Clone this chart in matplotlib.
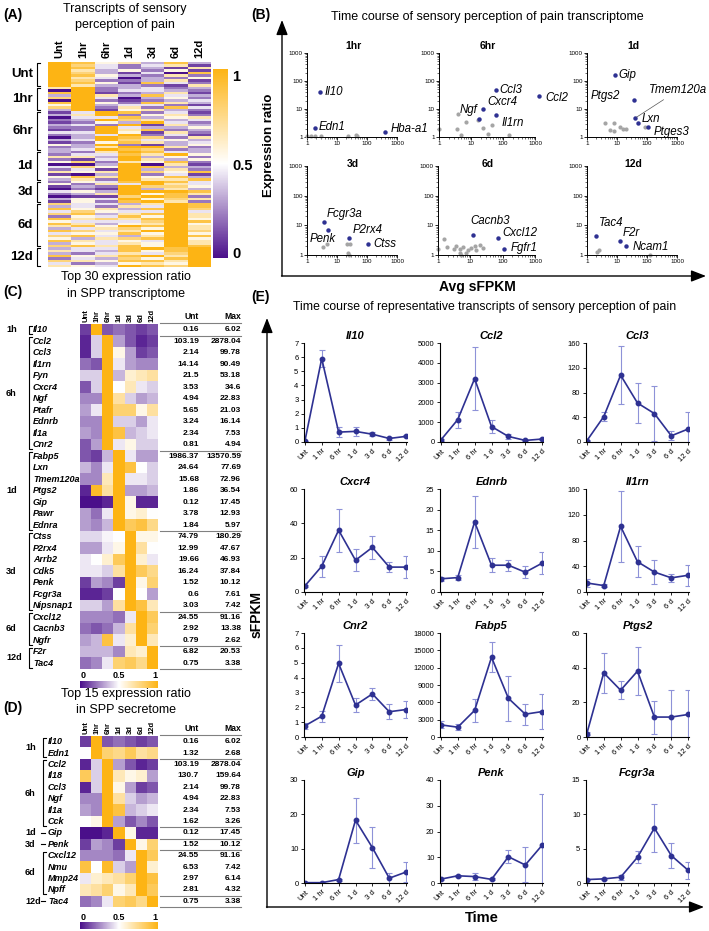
import numpy as np
import matplotlib
matplotlib.use("Agg")
import matplotlib.pyplot as plt
from matplotlib.colors import LinearSegmentedColormap

plt.rcParams['font.family'] = ['Liberation Sans', 'DejaVu Sans']

W, H = 709, 931
fig = plt.figure(figsize=(W / 100, H / 100), dpi=100)
cmap = LinearSegmentedColormap.from_list("pw", ["#4A0F8A", "#FFFFFF", "#FDB414"])
line_col = "#2E3192"
err_col = "#8E92D8"


def pax(x0, y0, x1, y1):
    # axes placed in pixel coords, origin top-left
    return fig.add_axes([x0 / W, 1 - y1 / H, (x1 - x0) / W, (y1 - y0) / H])


ov = fig.add_axes([0, 0, 1, 1], zorder=10)
ov.set_xlim(0, W)
ov.set_ylim(H, 0)
ov.axis('off')
ov.patch.set_alpha(0)

# ---------------- data ----------------
time_cols = ["Unt", "1hr", "6hr", "1d", "3d", "6d", "12d"]

# panel A, one digit per cell (0 = 0, 9 = 1)
a_groups = ["Unt", "1hr", "6hr", "1d", "3d", "6d", "12d"]
a_rows = [
    ["9856383", "9742461", "9842316", "9635251", "9731408",
     "9853262", "9640325", "9722361", "9851842", "9633216"],
    ["6923423", "0924432", "8912361", "3963843", "7940352",
     "0921234", "8952863", "5934421", "7926284", "3915632"],
    ["1498241", "3692562", "0448356", "2397634", "1253942", "3429163",
     "2294335", "1296823", "4495162", "2349241", "0398726", "3497453",
     "1258634", "5392135", "2369962", "3498723"],
    ["3269843", "2448695", "6639352", "2149635", "5726582", "0039061",
     "4759833", "2419362", "6569758", "1039241", "5869583", "3629668"],
    ["2548984", "5264964", "1329775", "0219363", "4539998",
     "2369586", "0117982", "3549576", "1528962"],
    ["7443698", "3426498", "8563897", "4754494", "7836896", "2548596",
     "8676895", "5444798", "8635695", "6859896", "3467596", "8746997",
     "4558595", "7843698", "5367895", "8645496", "3546596", "7868598"],
    ["3448989", "6438589", "3246479", "8568969", "2437589",
     "7658869", "4235659", "6549879"],
]

# panel C
c_genes = ["Il10", "Ccl2", "Ccl3", "Il1rn", "Fyn", "Cxcr4", "Ngf", "Ptafr", "Ednrb", "Il1a",
           "Cnr2", "Fabp5", "Lxn", "Tmem120a", "Ptgs2", "Gip", "Pawr", "Ednra", "Ctss",
           "P2rx4", "Arrb2", "Cdk5", "Penk", "Fcgr3a", "Nipsnap1", "Cxcl12", "Cacnb3",
           "Ngfr", "F2r", "Tac4"]
c_groups = [("1h", 1), ("6h", 10), ("1d", 7), ("3d", 7), ("6d", 3), ("12d", 2)]
c_unt = ["0.16", "103.19", "2.14", "14.14", "21.5", "3.53", "4.94", "5.65", "3.24", "2.34",
         "0.81", "1986.37", "24.64", "15.68", "1.86", "0.12", "3.78", "1.84", "74.79",
         "12.99", "19.66", "16.24", "1.52", "0.6", "3.03", "24.55", "2.92", "0.79",
         "6.82", "0.75"]
c_max = ["6.02", "2878.04", "99.78", "90.49", "53.18", "34.6", "22.83", "21.03", "16.14",
         "7.53", "4.94", "13570.59", "77.69", "72.96", "36.54", "17.45", "12.93", "5.97",
         "180.29", "47.67", "46.93", "37.84", "10.12", "7.61", "7.42", "91.16", "13.38",
         "2.62", "20.53", "3.38"]
c_vals = [
    [0.10, 1.00, 0.15, 0.20, 0.15, 0.10, 0.15],
    [0.05, 0.40, 1.00, 0.30, 0.15, 0.05, 0.10],
    [0.05, 0.40, 1.00, 0.55, 0.30, 0.10, 0.15],
    [0.20, 0.15, 1.00, 0.45, 0.30, 0.25, 0.25],
    [0.40, 0.40, 1.00, 0.35, 0.60, 0.65, 0.70],
    [0.15, 0.40, 1.00, 0.50, 0.65, 0.45, 0.40],
    [0.25, 0.25, 1.00, 0.70, 0.40, 0.30, 0.35],
    [0.30, 0.45, 1.00, 0.80, 0.80, 0.55, 0.70],
    [0.25, 0.25, 1.00, 0.40, 0.40, 0.30, 0.45],
    [0.30, 0.25, 1.00, 0.90, 0.35, 0.40, 0.45],
    [0.15, 0.30, 1.00, 0.45, 0.55, 0.40, 0.40],
    [0.15, 0.10, 0.35, 1.00, 0.45, 0.30, 0.30],
    [0.35, 0.25, 0.45, 1.00, 0.90, 0.50, 0.40],
    [0.25, 0.25, 0.65, 1.00, 0.45, 0.45, 0.40],
    [0.05, 0.95, 0.70, 1.00, 0.30, 0.30, 0.35],
    [0.00, 0.00, 0.05, 1.00, 0.55, 0.05, 0.05],
    [0.30, 0.20, 0.45, 1.00, 0.55, 0.60, 0.50],
    [0.30, 0.25, 0.35, 1.00, 0.85, 0.90, 0.75],
    [0.42, 0.42, 0.48, 0.50, 1.00, 0.55, 0.55],
    [0.30, 0.30, 0.45, 0.55, 1.00, 0.70, 0.50],
    [0.45, 0.50, 0.60, 0.85, 1.00, 0.60, 0.45],
    [0.45, 0.45, 0.40, 0.70, 1.00, 0.85, 0.75],
    [0.10, 0.30, 0.25, 0.10, 1.00, 0.55, 0.80],
    [0.05, 0.05, 0.10, 0.50, 1.00, 0.50, 0.30],
    [0.40, 0.40, 0.30, 0.70, 1.00, 0.90, 0.65],
    [0.25, 0.25, 0.25, 0.20, 0.45, 1.00, 0.85],
    [0.20, 0.15, 0.20, 0.35, 0.70, 1.00, 0.80],
    [0.30, 0.35, 0.90, 0.45, 0.60, 1.00, 0.65],
    [0.35, 0.35, 0.35, 0.25, 0.65, 0.60, 1.00],
    [0.20, 0.25, 0.45, 0.80, 0.85, 0.75, 1.00],
]

# panel D
d_genes = ["Il10", "Edn1", "Ccl2", "Il18", "Ccl3", "Ngf", "Il1a", "Cck", "Gip", "Penk",
           "Cxcl12", "Nmu", "Mmp24", "Npff", "Tac4"]
d_groups = [("1h", 2), ("6h", 6), ("1d", 1), ("3d", 1), ("6d", 4), ("12d", 1)]
d_unt = ["0.16", "1.32", "103.19", "130.7", "2.14", "4.94", "2.34", "1.62", "0.12", "1.52",
         "24.55", "6.53", "2.97", "2.81", "0.75"]
d_max = ["6.02", "2.68", "2878.04", "159.64", "99.78", "22.83", "7.53", "3.26", "17.45",
         "10.12", "91.16", "7.42", "6.14", "4.32", "3.38"]
d_vals = [
    [0.10, 1.00, 0.15, 0.20, 0.15, 0.10, 0.15],
    [0.50, 1.00, 0.80, 0.75, 0.85, 0.70, 0.75],
    [0.05, 0.40, 1.00, 0.30, 0.15, 0.05, 0.10],
    [0.85, 0.40, 1.00, 0.65, 0.55, 0.60, 0.30],
    [0.05, 0.40, 1.00, 0.55, 0.30, 0.10, 0.15],
    [0.25, 0.25, 1.00, 0.70, 0.40, 0.30, 0.35],
    [0.30, 0.25, 1.00, 0.90, 0.35, 0.40, 0.45],
    [0.50, 0.55, 1.00, 0.30, 0.15, 0.25, 0.15],
    [0.00, 0.00, 0.05, 1.00, 0.55, 0.05, 0.05],
    [0.10, 0.30, 0.25, 0.10, 1.00, 0.55, 0.80],
    [0.25, 0.25, 0.25, 0.20, 0.45, 1.00, 0.85],
    [0.90, 0.50, 0.95, 0.40, 0.30, 1.00, 0.60],
    [0.45, 0.60, 0.65, 0.70, 0.80, 1.00, 0.90],
    [0.65, 0.70, 0.80, 0.55, 0.65, 1.00, 0.85],
    [0.20, 0.25, 0.45, 0.80, 0.85, 0.75, 1.00],
]

# panel B
b_panels = ["1hr", "6hr", "1d", "3d", "6d", "12d"]
b_names = {"1hr": ["Il10", "Edn1", "Hba-a1"],
           "6hr": ["Ccl3", "Ccl2", "Cxcr4", "Ngf", "Il1rn"],
           "1d": ["Gip", "Ptgs2", "Tmem120a", "Lxn", "Ptges3"],
           "3d": ["Fcgr3a", "Penk", "P2rx4", "Ctss"],
           "6d": ["Cacnb3", "Cxcl12", "Fgfr1"],
           "12d": ["Tac4", "F2r", "Ncam1"]}
b_x = {"1hr": [2.7, 1.8, 410], "6hr": [59, 1300, 24, 18, 59],
       "1d": [8.4, 36, 41, 49, 108], "3d": [3.6, 5.1, 25, 104],
       "6d": [12.2, 72, 109], "12d": [2.0, 12.3, 20]}
b_y = {"1hr": [40, 2.1, 1.5], "6hr": [47, 30, 10, 4.5, 6.2],
       "1d": [160, 21, 4.8, 3.2, 2.3], "3d": [12.6, 6.8, 3.6, 2.35],
       "6d": [4.6, 3.65, 1.55], "12d": [4.4, 3.0, 2.0]}
b_gx = {"1hr": [1, 1.4, 1.8, 3, 24, 43, 45],
        "6hr": [1, 3.6, 4, 7, 17, 23, 44, 4.8, 33, 154],
        "1d": [3.9, 6, 8, 8, 13, 16, 20, 88],
        "3d": [3.45, 4.7, 21, 28, 24, 26],
        "6d": [1, 1.5, 1.9, 3.1, 3.7, 4.7, 4.9, 6, 7.2, 8.5, 10.8, 13.7, 15.5, 19.6, 25, 5.3],
        "12d": [2.15, 2.6, 130]}
b_gy = {"1hr": [1.05, 1.05, 1.05, 1.08, 1.1, 1.2, 1.05],
        "6hr": [2, 2, 6.5, 3.3, 4, 2.1, 2.6, 1.15, 1.3, 1.15],
        "1d": [3.2, 1.8, 1.7, 3.2, 2.3, 2.0, 2.0, 2.2],
        "3d": [1.8, 2.35, 2.35, 2.35, 1.2, 1.02],
        "6d": [1.55, 3.4, 1.8, 1.55, 2.0, 1.55, 1.15, 1.8, 1.2, 1.5, 1.7, 2.0, 1.5, 2.2, 1.7, 1.02],
        "12d": [1.3, 1.45, 1.02]}

# panel E
e_genes = ["Il10", "Ccl2", "Ccl3", "Cxcr4", "Ednrb", "Il1rn",
           "Cnr2", "Fabp5", "Ptgs2", "Gip", "Penk", "Fcgr3a"]
e_times = ["Unt", "1 hr", "6 hr", "1 d", "3 d", "6 d", "12 d"]
e_mean = {"Il10": [0.05, 5.9, 0.7, 0.75, 0.55, 0.25, 0.4],
          "Ccl2": [100, 1130, 3200, 780, 280, 80, 150],
          "Ccl3": [2, 41, 108, 63, 46, 10, 21],
          "Cxcr4": [3.5, 15, 36, 18.5, 26, 14.5, 14.5],
          "Ednrb": [3.2, 3.5, 17, 6.5, 6.5, 4.8, 7],
          "Il1rn": [14, 10, 102, 47, 31, 22, 26],
          "Cnr2": [0.75, 1.4, 4.95, 2.15, 2.9, 1.7, 1.85],
          "Fabp5": [2100, 1700, 4600, 13800, 6700, 3950, 4400],
          "Ptgs2": [2, 37, 27, 38, 11.5, 11.5, 13],
          "Gip": [0.1, 0.1, 1, 18.3, 10.3, 1.4, 3.2],
          "Penk": [1.5, 2.8, 2.5, 1.4, 10.2, 7, 14.7],
          "Fcgr3a": [0.5, 0.6, 0.85, 3.75, 8, 4, 1.85]}
e_sd = {"Il10": [0.03, 0.6, 0.37, 0.33, 0.15, 0.12, 0.06],
        "Ccl2": [50, 400, 1600, 320, 120, 40, 40],
        "Ccl3": [1, 7, 47, 33, 45, 7, 27],
        "Cxcr4": [0.5, 6, 12.5, 6.5, 6.5, 3, 6.3],
        "Ednrb": [0.5, 0.6, 6.3, 1.7, 1.3, 1.4, 2.6],
        "Il1rn": [6, 3, 55, 24, 18, 6, 16],
        "Cnr2": [0.2, 0.38, 1.22, 0.48, 0.43, 0.52, 0.57],
        "Fabp5": [600, 500, 2000, 2600, 3900, 1800, 3000],
        "Ptgs2": [1, 11.5, 5.3, 14, 9.5, 15.5, 14],
        "Gip": [0.05, 0.05, 0.3, 6.6, 6, 1.6, 2.8],
        "Penk": [0.4, 0.4, 1.2, 0.4, 2.6, 6.8, 20],
        "Fcgr3a": [0.1, 0.1, 0.35, 0.9, 3.5, 1.8, 1.2]}
e_ymax = {"Il10": 7, "Ccl2": 5000, "Ccl3": 160, "Cxcr4": 60, "Ednrb": 25, "Il1rn": 160,
          "Cnr2": 7, "Fabp5": 18000, "Ptgs2": 60, "Gip": 30, "Penk": 40, "Fcgr3a": 15}
e_step = {"Il10": 1, "Ccl2": 1000, "Ccl3": 40, "Cxcr4": 20, "Ednrb": 5, "Il1rn": 40,
          "Cnr2": 1, "Fabp5": 3000, "Ptgs2": 20, "Gip": 10, "Penk": 10, "Fcgr3a": 5}

# ---------------- panel A ----------------
bold = dict(fontweight='bold')
ov.text(3, 15, "(A)", fontsize=10, va='center', **bold)
ov.text(125, 9, "Transcripts of sensory", fontsize=9, ha='center', va='center')
ov.text(125, 25, "perception of pain", fontsize=9, ha='center', va='center')

hmA = np.array([[int(c) for c in r] for grp in a_rows for r in grp]) / 9.0
axA = pax(48, 62, 211, 267)
imA = axA.imshow(hmA, cmap=cmap, vmin=0, vmax=1, aspect='auto', interpolation='nearest')
axA.axis('off')
colw = (211 - 48) / 7
for j, lab in enumerate(time_cols):
    ov.text(48 + (j + 0.5) * colw, 58, lab, rotation=90, ha='center', va='bottom', fontsize=8, **bold)
nA = hmA.shape[0]
rhA = (267 - 62) / nA
start = 0
for name, grp in zip(a_groups, a_rows):
    top = 62 + start * rhA
    bot = 62 + (start + len(grp)) * rhA
    ov.plot([40, 37, 37, 40], [top + 1, top + 1, bot - 1, bot - 1], color='black', lw=0.8)
    ov.text(33, (top + bot) / 2, name, ha='right', va='center', fontsize=9.5, **bold)
    start += len(grp)
caxA = pax(213, 69, 228, 258)
cbA = fig.colorbar(imA, cax=caxA, ticks=[])
cbA.outline.set_visible(False)
for v, yy in [("1", 77), ("0.5", 166), ("0", 254)]:
    ov.text(232, yy, v, va='center', ha='left', fontsize=10.5, **bold)


# ---------------- panels C and D ----------------
def heat_table(genes, groups, vals, unt, mx, y0, y1, gene_x, brk_x, grp_x, dash_single):
    n = len(genes)
    rh = (y1 - y0) / n
    ax = pax(80, y0, 158, y1)
    im = ax.imshow(np.array(vals), cmap=cmap, vmin=0, vmax=1, aspect='auto', interpolation='nearest')
    ax.axis('off')
    for j, lab in enumerate(time_cols):
        ov.text(80 + (j + 0.5) * 78 / 7, y0 - 2, lab, rotation=90, ha='center', va='bottom',
                fontsize=5.5, **bold)
    ov.text(199, y0 - 3, "Unt", ha='right', va='bottom', fontsize=6.2, **bold)
    ov.text(241, y0 - 3, "Max", ha='right', va='bottom', fontsize=6.2, **bold)
    ov.plot([160, 241], [y0 - 1, y0 - 1], color='grey', lw=0.8)
    for i, g in enumerate(genes):
        yc = y0 + (i + 0.5) * rh
        ov.text(gene_x, yc, g, ha='left', va='center', fontsize=6.5, style='italic', **bold)
        ov.text(199, yc, unt[i], ha='right', va='center', fontsize=6, **bold)
        ov.text(241, yc, mx[i], ha='right', va='center', fontsize=6, **bold)
    s = 0
    for name, cnt in groups:
        top = y0 + s * rh
        bot = y0 + (s + cnt) * rh
        mid = (top + bot) / 2
        ov.text(grp_x, mid, name, ha='left', va='center', fontsize=6.5, **bold)
        if cnt == 1 and dash_single:
            ov.plot([brk_x - 2, brk_x + 2], [mid, mid], color='black', lw=0.8)
        else:
            ov.plot([brk_x + 3, brk_x, brk_x, brk_x + 3], [top + 1.5, top + 1.5, bot - 1.5, bot - 1.5],
                    color='black', lw=0.8)
        ov.plot([160, 241], [bot, bot], color='grey', lw=0.8)
        s += cnt
    return im


ov.text(3, 292, "(C)", fontsize=10, va='center', **bold)
ov.text(126, 277, "Top 30 expression ratio", fontsize=9, ha='center', va='center')
ov.text(126, 294, "in SPP transcriptome", fontsize=9, ha='center', va='center')
imC = heat_table(c_genes, c_groups, c_vals, c_unt, c_max, 324, 669, 33, 29, 6, False)
caxC = pax(80, 681, 158, 688)
cbC = fig.colorbar(imC, cax=caxC, orientation='horizontal', ticks=[])
cbC.outline.set_visible(False)
for v, xx in [("0", 83), ("0.5", 119), ("1", 155)]:
    ov.text(xx, 676, v, ha='center', va='center', fontsize=6.5, **bold)

ov.text(3, 708, "(D)", fontsize=10, va='center', **bold)
ov.text(126, 694, "Top 15 expression ratio", fontsize=9, ha='center', va='center')
ov.text(126, 710, "in SPP secretome", fontsize=9, ha='center', va='center')
imD = heat_table(d_genes, d_groups, d_vals, d_unt, d_max, 736, 907, 48, 43, 25, True)
caxD = pax(80, 922, 158, 929)
cbD = fig.colorbar(imD, cax=caxD, orientation='horizontal', ticks=[])
cbD.outline.set_visible(False)
for v, xx in [("0", 83), ("0.5", 119), ("1", 155)]:
    ov.text(xx, 917, v, ha='center', va='center', fontsize=6.5, **bold)

# ---------------- panel B ----------------
ov.text(251, 15, "(B)", fontsize=10, va='center', **bold)
ov.text(487, 17, "Time course of sensory perception of pain transcriptome", fontsize=9,
        ha='center', va='center')
b_box = {"1hr": (307, 53, 397, 137), "6hr": (439, 53, 535, 137), "1d": (587, 53, 677, 137),
         "3d": (307, 166, 397, 255), "6d": (438, 166, 535, 255), "12d": (587, 166, 677, 255)}
b_title_y = {"1hr": 46, "6hr": 46, "1d": 46, "3d": 164, "6d": 164, "12d": 164}
# label offsets in points (dx, dy, ha)
b_off = {"Il10": (3, 0, 'left'), "Edn1": (3, 1, 'left'), "Hba-a1": (4, 2, 'left'),
         "Ccl3": (3, 0, 'left'), "Ccl2": (5, -2, 'left'), "Cxcr4": (3, 5, 'left'),
         "Ngf": (-1, 6, 'right'), "Il1rn": (4, -6, 'left'),
         "Gip": (3, 0, 'left'), "Ptgs2": (-10, 3, 'right'), "Lxn": (3, 3, 'left'),
         "Ptges3": (4, -4, 'left'),
         "Fcgr3a": (2, 6, 'left'), "Penk": (-4, -6, 'center'), "P2rx4": (3, 6, 'left'),
         "Ctss": (4, 0, 'left'),
         "Cacnb3": (12, 10, 'center'), "Cxcl12": (3, 4, 'left'), "Fgfr1": (5, 1, 'left'),
         "Tac4": (2, 9, 'left'), "F2r": (2, 6, 'left'), "Ncam1": (5, -1, 'left')}
for p in b_panels:
    x0, y0, x1, y1 = b_box[p]
    ax = pax(x0, y0, x1, y1)
    ax.set_xscale('log')
    ax.set_yscale('log')
    ax.set_xlim(1, 1000)
    ax.set_ylim(1, 1000)
    ax.patch.set_alpha(0)
    for sp in ['top', 'right']:
        ax.spines[sp].set_visible(False)
    for sp in ['left', 'bottom']:
        ax.spines[sp].set_linewidth(0.7)
    ax.set_xticks([1, 10, 100, 1000])
    ax.set_xticklabels(["1", "10", "100", "1000"])
    ax.set_yticks([1, 10, 100, 1000])
    ax.set_yticklabels(["1", "10", "100", "1000"])
    ax.tick_params(labelsize=4.5, length=2, width=0.6, pad=1)
    ax.tick_params(which='minor', length=1.2, width=0.4)
    ax.plot(b_gx[p], b_gy[p], 'o', color='#A5A5A5', ms=3, mec='none', clip_on=False)
    ax.plot(b_x[p], b_y[p], 'o', color=line_col, ms=3.2, mec='none', clip_on=False)
    for nm, xx, yy in zip(b_names[p], b_x[p], b_y[p]):
        if nm == "Tmem120a":
            ax.annotate(nm, (xx, yy), xytext=(10, 20), textcoords='offset points', fontsize=8.3,
                        style='italic', ha='left', va='center', annotation_clip=False,
                        arrowprops=dict(arrowstyle='-', color='#555555', lw=0.5,
                                        shrinkA=1, shrinkB=1))
        else:
            dx, dy, ha = b_off[nm]
            ax.annotate(nm, (xx, yy), xytext=(dx, dy), textcoords='offset points', fontsize=8.3,
                        style='italic', ha=ha, va='center', annotation_clip=False)
    ov.text((x0 + x1) / 2 + 1, b_title_y[p], p, ha='center', va='center', fontsize=7.5, **bold)

ov.annotate('', xy=(282, 20), xytext=(282, 276),
            arrowprops=dict(arrowstyle='-|>,head_width=0.35,head_length=0.9', color='black',
                            lw=1.0, shrinkA=0, shrinkB=0))
ov.annotate('', xy=(706, 276), xytext=(281.5, 276),
            arrowprops=dict(arrowstyle='-|>,head_width=0.35,head_length=0.9', color='black',
                            lw=1.0, shrinkA=0, shrinkB=0))
ov.text(269, 145, "Expression ratio", rotation=90, ha='center', va='center', fontsize=9.5, **bold)
ov.text(477, 287, "Avg sFPKM", ha='center', va='center', fontsize=10, **bold)

# ---------------- panel E ----------------
ov.text(251, 297, "(E)", fontsize=10, va='center', **bold)
ov.text(485, 307, "Time course of representative transcripts of sensory perception of pain",
        fontsize=8.8, ha='center', va='center')
e_cols = [(304, 407), (440, 543), (586, 689)]
e_rows = [(343, 442), (489, 592), (633, 737), (780, 883)]
xs = np.arange(len(e_times))
for k, g in enumerate(e_genes):
    cx0, cx1 = e_cols[k % 3]
    ry0, ry1 = e_rows[k // 3]
    ax = pax(cx0, ry0, cx1, ry1)
    ax.patch.set_alpha(0)
    ax.errorbar(xs, e_mean[g], yerr=e_sd[g], color=line_col, ecolor=err_col, elinewidth=0.8,
                capsize=2, capthick=0.8, lw=1.2, marker='o', ms=3.2)
    ax.set_xlim(-0.05, 6.05)
    ax.set_ylim(0, e_ymax[g])
    ax.set_yticks(np.arange(0, e_ymax[g] + 1e-9, e_step[g]))
    ax.set_xticks(xs)
    ax.set_xticklabels(e_times, rotation=45, ha='right', rotation_mode='anchor')
    for sp in ['top', 'right']:
        ax.spines[sp].set_visible(False)
    for sp in ['left', 'bottom']:
        ax.spines[sp].set_linewidth(0.8)
    ax.tick_params(labelsize=5.5, length=2.5, width=0.6, pad=1.5)
    ax.set_title(g, fontsize=8, style='italic', pad=3, **bold)

ov.annotate('', xy=(267, 318), xytext=(267, 907.5),
            arrowprops=dict(arrowstyle='-|>,head_width=0.35,head_length=0.9', color='black',
                            lw=1.0, shrinkA=0, shrinkB=0))
ov.annotate('', xy=(704, 907), xytext=(266.5, 907),
            arrowprops=dict(arrowstyle='-|>,head_width=0.35,head_length=0.9', color='black',
                            lw=1.0, shrinkA=0, shrinkB=0))
ov.text(257, 615, "sFPKM", rotation=90, ha='center', va='center', fontsize=10, **bold)
ov.text(482, 918, "Time", ha='center', va='center', fontsize=10.5, **bold)

fig.savefig("out.png", dpi=100)
